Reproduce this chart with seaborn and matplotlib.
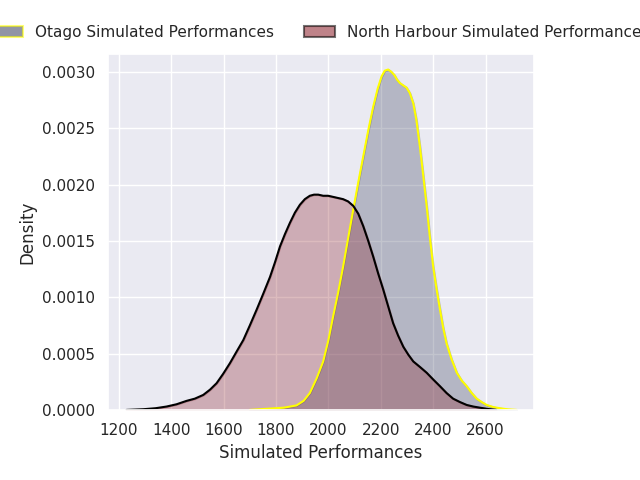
import numpy as np
import pandas as pd
import matplotlib
matplotlib.use("Agg")
import matplotlib.pyplot as plt
import seaborn as sns
from matplotlib.patches import Patch
from matplotlib.colors import to_rgba

# ---- data (x = simulated performance, y = density) ----
otago_x = [1700, 1764, 1830, 1878, 1905, 1929, 1955, 1980, 2000, 2018, 2037, 2056,
           2075, 2095, 2114, 2133, 2152, 2171, 2188, 2203, 2215, 2228, 2240, 2252,
           2262, 2273, 2285, 2298, 2311, 2324, 2336, 2349, 2362, 2375, 2387, 2400,
           2413, 2426, 2438, 2451, 2470, 2490, 2509, 2528, 2547, 2566, 2585, 2604,
           2630, 2655, 2685, 2718]
otago_y = [0.0, 0.00001, 0.00002, 0.00004, 0.00008, 0.00015, 0.00028, 0.00043, 0.00062,
           0.00083, 0.00104, 0.00127, 0.00152, 0.00178, 0.00202, 0.00225, 0.00248,
           0.00269, 0.00285, 0.00296, 0.00301, 0.00302, 0.00300, 0.00297, 0.00293,
           0.00290, 0.00288, 0.00286, 0.00281, 0.00272, 0.00257, 0.00234, 0.00208,
           0.00181, 0.00154, 0.00127, 0.00107, 0.00089, 0.00073, 0.00059, 0.00045,
           0.00033, 0.00026, 0.00021, 0.00015, 0.00010, 0.00007, 0.000044, 0.000025,
           0.000015, 0.000005, 0.0]

harbour_x = [1229, 1293, 1340, 1382, 1420, 1458, 1490, 1522, 1548, 1573, 1598, 1624,
             1650, 1675, 1700, 1726, 1751, 1777, 1796, 1815, 1834, 1853, 1872, 1891,
             1910, 1929, 1945, 1961, 1980, 1999, 2018, 2037, 2056, 2075, 2095, 2114,
             2133, 2152, 2171, 2190, 2209, 2228, 2247, 2266, 2286, 2305, 2324, 2350,
             2375, 2400, 2426, 2451, 2476, 2502, 2528, 2553, 2578, 2610, 2640]
harbour_y = [0.0, 0.000006, 0.000015, 0.00003, 0.00005, 0.00008, 0.00010, 0.000133,
             0.00018, 0.000237, 0.00032, 0.000415, 0.00052, 0.00062, 0.00075, 0.00089,
             0.00103, 0.00118, 0.00131, 0.00145, 0.00156, 0.00166, 0.00175, 0.00182,
             0.00187, 0.00190, 0.00191, 0.00191, 0.00190, 0.00190, 0.00189, 0.00188,
             0.00187, 0.00185, 0.00181, 0.00174, 0.00163, 0.00150, 0.00136, 0.00121,
             0.00107, 0.00092, 0.00077, 0.00066, 0.00056, 0.00049, 0.00043, 0.00038,
             0.00033, 0.00027, 0.00021, 0.00015, 0.00010, 0.00007, 0.000044, 0.00003,
             0.00002, 0.000008, 0.0]

labels = ["Otago Simulated Performances", "North Harbour Simulated Performances"]
face_colors = ["#373e5c", "#8c1e28"]
edge_colors = ["yellow", "black"]

otago = pd.DataFrame({"x": otago_x, "y": otago_y})
harbour = pd.DataFrame({"x": harbour_x, "y": harbour_y})

sns.set_theme(style="darkgrid")
fig = plt.figure(figsize=(6.4, 4.8), dpi=100)
ax = fig.add_axes([0.169, 0.146, 0.665, 0.742])

for df, fc, ec in [(otago, face_colors[0], edge_colors[0]),
                   (harbour, face_colors[1], edge_colors[1])]:
    ax.fill_between(df["x"], 0, df["y"], facecolor=to_rgba(fc, 0.3),
                    edgecolor=to_rgba(fc, 0.3), linewidth=1.5)
    sns.lineplot(data=df, x="x", y="y", ax=ax, color=ec, linewidth=1.5,
                 sort=False, estimator=None)

ax.set_xlim(1159, 2784)
ax.set_ylim(0, 0.00316)
ax.set_xticks([1200, 1400, 1600, 1800, 2000, 2200, 2400, 2600])
ax.set_yticks([0.0, 0.0005, 0.0010, 0.0015, 0.0020, 0.0025, 0.0030])
ax.yaxis.set_major_formatter(matplotlib.ticker.FormatStrFormatter("%.4f"))
ax.set_xlabel("Simulated Performances")
ax.set_ylabel("Density")

handles = [Patch(facecolor=to_rgba(face_colors[i], 0.55),
                 edgecolor=to_rgba(edge_colors[i], 0.55), linewidth=1.5,
                 label=labels[i]) for i in range(2)]
ax.legend(handles=handles, loc="lower center", bbox_to_anchor=(0.5, 1.0),
          ncol=2, frameon=False, fontsize=11)

fig.savefig("out.png", dpi=100)
